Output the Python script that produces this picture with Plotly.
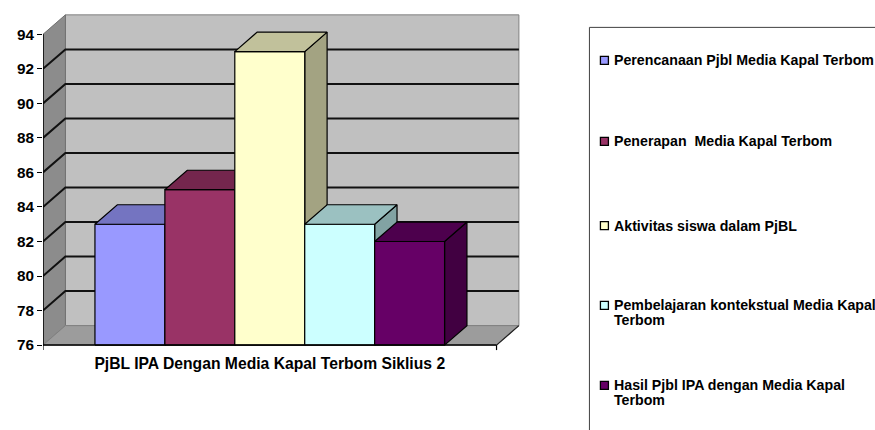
import plotly.graph_objects as go

# ---------------- data ----------------
CATEGORY = "PjBL IPA Dengan Media Kapal Terbom Siklius 2"
SERIES = [
    "Perencanaan Pjbl Media Kapal Terbom",
    "Penerapan  Media Kapal Terbom",
    "Aktivitas siswa dalam PjBL",
    "Pembelajaran kontekstual Media Kapal<br>Terbom",
    "Hasil Pjbl IPA dengan Media Kapal<br>Terbom",
]
VALUES = [83, 85, 93, 83, 82]
Y_TICKS = [76, 78, 80, 82, 84, 86, 88, 90, 92, 94]

# ---------------- style ----------------
COLORS = ["#9999FF", "#993366", "#FFFFCC", "#CCFFFF", "#660066"]
FONT = "Liberation Sans, Arial, sans-serif"
GAP = 0.743      # space between outer bars and wall (in bar widths)
DX, DY = 0.32, 1.128   # 3-D depth offset in data units
W, H = 875, 430
L_PX, R_PLOT_PX = 43, 521.5   # plot area horizontal pixels
Y0_PX = 345                   # pixel of the axis minimum
K_Y = 17.28                   # px per y unit
Y_PAD_BOTTOM = 0.4


def shade(hx, f):
    hx = hx.lstrip("#")
    r, g, b = (int(hx[i:i + 2], 16) for i in (0, 2, 4))
    return "#%02X%02X%02X" % (int(r * f), int(g * f), int(b * f))


n = len(VALUES)
Y_MIN, Y_MAX = Y_TICKS[0], Y_TICKS[-1]
X0 = -0.5 - GAP
X1 = n - 0.5 + GAP
XR = [X0, X1 + DX + 0.03]
YR = [Y_MIN - Y_PAD_BOTTOM, Y_MAX + DY + 0.05]

fig = go.Figure()


def poly(xs, ys, fill, lc="black", lw=1.2):
    fig.add_trace(go.Scatter(
        x=list(xs) + [xs[0]], y=list(ys) + [ys[0]], mode="lines",
        fill="toself", fillcolor=fill, line=dict(color=lc, width=lw),
        hoverinfo="skip", showlegend=False))


def line(xs, ys, lc="black", lw=1.5):
    fig.add_trace(go.Scatter(
        x=xs, y=ys, mode="lines", line=dict(color=lc, width=lw),
        hoverinfo="skip", showlegend=False))


# walls and floor
poly([X0 + DX, X1 + DX, X1 + DX, X0 + DX],
     [Y_MIN + DY, Y_MIN + DY, Y_MAX + DY, Y_MAX + DY], "#C0C0C0", "#808080", 1)
poly([X0, X0 + DX, X0 + DX, X0],
     [Y_MIN, Y_MIN + DY, Y_MAX + DY, Y_MAX], "#8C8C8C", "#707070", 1)
poly([X0, X1, X1 + DX, X0 + DX],
     [Y_MIN, Y_MIN, Y_MIN + DY, Y_MIN + DY], "#9C9C9C", "#808080", 1)

# gridlines
for v in Y_TICKS[1:-1]:
    line([X0, X0 + DX, X1 + DX], [v, v + DY, v + DY], "#111111", 2)

# bars
for i, (v, c) in enumerate(zip(VALUES, COLORS)):
    xl, xr = i - 0.5, i + 0.5
    poly([xr, xr + DX, xr + DX, xr], [Y_MIN, Y_MIN + DY, v + DY, v], shade(c, 0.64))
    poly([xl, xr, xr, xl], [Y_MIN, Y_MIN, v, v], c)
    poly([xl, xr, xr + DX, xl + DX], [v, v, v + DY, v + DY], shade(c, 0.76))

# axis lines
tick = 5 / K_Y
line([X0, X0], [Y_MIN, Y_MAX])
line([X0, X1], [Y_MIN, Y_MIN])
line([X0, X0, None, X1, X1], [Y_MIN, Y_MIN - tick, None, Y_MIN, Y_MIN - tick], lw=1.2)
line([X1, X1 + DX], [Y_MIN, Y_MIN + DY], "#222222", 1.2)

# geometry of the plot area in pixels
plot_w = R_PLOT_PX - L_PX
plot_bottom = Y0_PX + Y_PAD_BOTTOM * K_Y
plot_h = (YR[1] - YR[0]) * K_Y
plot_top = plot_bottom - plot_h


def px(xp):
    return (xp - L_PX) / plot_w


def py(yp):
    return (plot_bottom - yp) / plot_h


# legend (drawn manually, Excel style)
LEG_Y = [60, 141, 225.5, 305.3, 385.3]
shapes = [dict(type="path", xref="paper", yref="paper",
               path="M %f %f L %f %f L %f %f" % (px(590), py(440), px(590), py(27), px(880), py(27)),
               line=dict(color="#404040", width=1))]
annotations = []
for name, c, yc in zip(SERIES, COLORS, LEG_Y):
    shapes.append(dict(type="rect", xref="paper", yref="paper",
                       x0=px(601), x1=px(609), y0=py(yc - 4), y1=py(yc + 4),
                       fillcolor=c, line=dict(color="black", width=1.3)))
    for k, part in enumerate(name.split("<br>")):
        annotations.append(dict(
            xref="paper", yref="paper", x=px(613), y=py(yc + 14.5 * k),
            xanchor="left", yanchor="middle", showarrow=False,
            text=part.replace("  ", "\u00a0 "),
            font=dict(family=FONT, size=14.2, color="black", weight="bold")))

fig.update_layout(
    width=W, height=H,
    margin=dict(l=L_PX, r=W - R_PLOT_PX, t=plot_top, b=H - plot_bottom, pad=0),
    paper_bgcolor="white", plot_bgcolor="white",
    showlegend=False,
    shapes=shapes, annotations=annotations,
    xaxis=dict(range=XR, showgrid=False, zeroline=False, showline=False,
               tickvals=[(n - 1) / 2], ticktext=[CATEGORY], ticks="",
               tickfont=dict(family=FONT, size=15.7, color="black", weight="bold"),
               fixedrange=True),
    yaxis=dict(range=YR, showgrid=False, zeroline=False, showline=False,
               tickvals=Y_TICKS, ticks="outside", ticklen=5, tickwidth=1.2,
               tickcolor="black",
               tickfont=dict(family=FONT, size=15.3, color="black", weight="bold"),
               fixedrange=True),
)

fig.write_html(
    "out.html",
    config={"displayModeBar": False},
    post_script="document.body.style.margin='0';document.body.style.padding='0';"
                "document.body.style.overflow='hidden';",
)
